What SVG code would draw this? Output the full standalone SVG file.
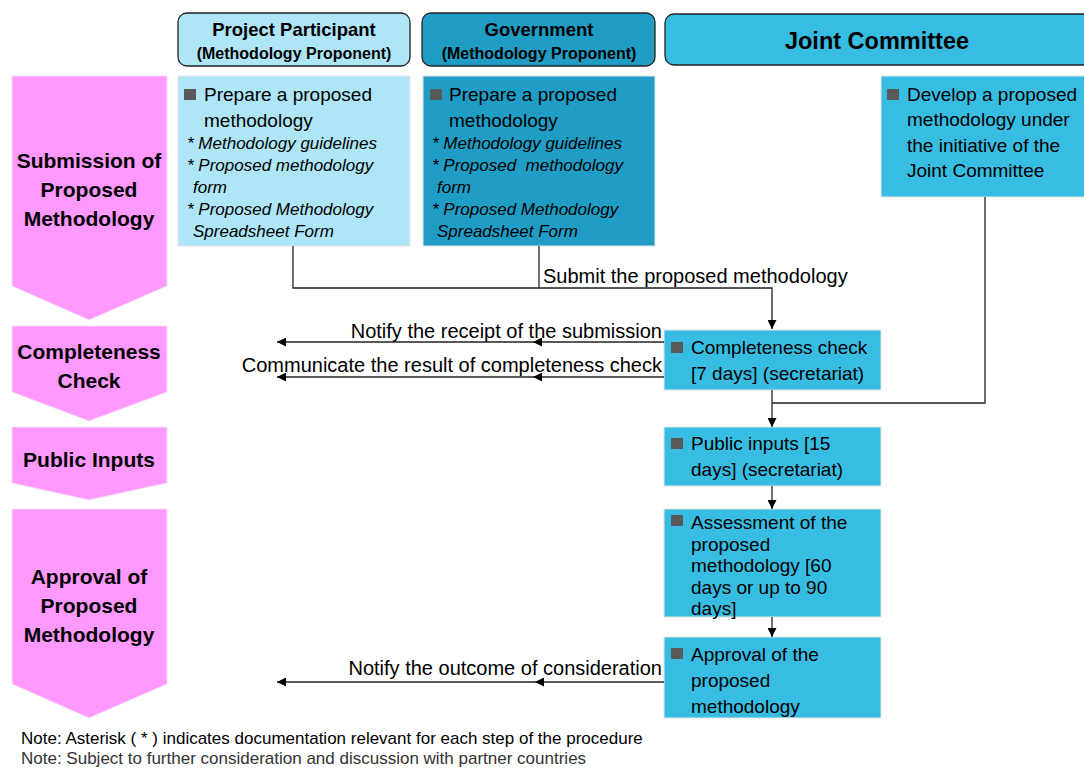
<svg xmlns="http://www.w3.org/2000/svg" width="1084" height="769" viewBox="0 0 1084 769">
<style>
text{font-family:"Liberation Sans",Arial,sans-serif;fill:#000}
.hdr{stroke:#222;stroke-width:1.3}
.pp{fill:#AEE5F7}
.gov{fill:#1F9DC4}
.jc{fill:#38BDE2}
.box{stroke:#E6E6E6;stroke-width:1}
.pink{fill:#FF99FF;stroke:#F6E0F6;stroke-width:1}
.ph{font-weight:bold;font-size:21px;text-anchor:middle}
.h1{font-weight:bold;font-size:18.5px;text-anchor:middle}
.h2{font-weight:bold;font-size:16px;text-anchor:middle}
.b{font-size:19px}
.it{font-size:17px;font-style:italic}
.lbl{font-size:20px}
.note{font-size:17px}
.sq{fill:#595959}
.ln{fill:none;stroke:#222;stroke-width:1.3}
</style>
<defs>
<marker id="ah" viewBox="0 0 10 10" refX="10" refY="5" markerWidth="9" markerHeight="9" markerUnits="userSpaceOnUse" orient="auto">
<path d="M0,0 L10,5 L0,10 z" fill="#000"/>
</marker>
</defs>

<!-- phase chevrons -->
<g id="phase-submission">
<path class="pink" d="M12,76 H167 V286 L89,320 L12,286 Z"/>
<text class="ph" x="89" y="168">Submission of</text>
<text class="ph" x="89" y="197">Proposed</text>
<text class="ph" x="89" y="226">Methodology</text>
</g>
<g id="phase-completeness">
<path class="pink" d="M12,326 H167 V392 L89,421 L12,392 Z"/>
<text class="ph" x="89" y="359">Completeness</text>
<text class="ph" x="89" y="388">Check</text>
</g>
<g id="phase-public">
<path class="pink" d="M12,427 H167 V483 L89,500 L12,483 Z"/>
<text class="ph" x="89" y="467">Public Inputs</text>
</g>
<g id="phase-approval">
<path class="pink" d="M12,509 H167 V684 L89,718 L12,684 Z"/>
<text class="ph" x="89" y="584">Approval of</text>
<text class="ph" x="89" y="613">Proposed</text>
<text class="ph" x="89" y="642">Methodology</text>
</g>

<!-- headers -->
<g id="hdr-pp">
<rect class="hdr pp" x="178" y="13" width="232" height="53" rx="9"/>
<text class="h1" x="294" y="36">Project Participant</text>
<text class="h2" x="294" y="59">(Methodology Proponent)</text>
</g>
<g id="hdr-gov">
<rect class="hdr gov" x="422" y="13" width="233" height="53" rx="9"/>
<text class="h1" x="539" y="36">Government</text>
<text class="h2" x="539" y="59">(Methodology Proponent)</text>
</g>
<g id="hdr-jc">
<rect class="hdr jc" x="665" y="14" width="430" height="51" rx="9"/>
<text x="877" y="49" font-weight="bold" font-size="23.5px" text-anchor="middle">Joint Committee</text>
</g>

<!-- content nodes -->
<g id="pp-prepare">
<rect class="box pp" x="178" y="76" width="232" height="170"/>
<rect class="sq" x="184" y="89" width="12" height="11"/>
<text class="b" x="204" y="101">Prepare a proposed</text>
<text class="b" x="204" y="127">methodology</text>
<text class="it" x="187" y="149">* Methodology guidelines</text>
<text class="it" x="187" y="171">* Proposed methodology</text>
<text class="it" x="193" y="193">form</text>
<text class="it" x="187" y="215">* Proposed Methodology</text>
<text class="it" x="193" y="237">Spreadsheet Form</text>
</g>
<g id="gov-prepare">
<rect class="box gov" x="423" y="76" width="232" height="170"/>
<rect class="sq" x="430" y="89" width="12" height="11"/>
<text class="b" x="449" y="101">Prepare a proposed</text>
<text class="b" x="449" y="127">methodology</text>
<text class="it" x="432" y="149">* Methodology guidelines</text>
<text class="it" x="432" y="171" xml:space="preserve">* Proposed  methodology</text>
<text class="it" x="437" y="193">form</text>
<text class="it" x="432" y="215">* Proposed Methodology</text>
<text class="it" x="437" y="237">Spreadsheet Form</text>
</g>
<g id="jc-develop">
<rect class="box jc" x="881" y="76" width="210" height="121"/>
<rect class="sq" x="887" y="89" width="12" height="11"/>
<text class="b" x="907" y="101">Develop a proposed</text>
<text class="b" x="907" y="126">methodology under</text>
<text class="b" x="907" y="152">the initiative of the</text>
<text class="b" x="907" y="177">Joint Committee</text>
</g>
<g id="completeness">
<rect class="box jc" x="664" y="330" width="217" height="60"/>
<rect class="sq" x="671" y="342" width="12" height="11"/>
<text class="b" x="691" y="354">Completeness check</text>
<text class="b" x="691" y="380">[7 days] (secretariat)</text>
</g>
<g id="public-inputs">
<rect class="box jc" x="664" y="427" width="217" height="59"/>
<rect class="sq" x="671" y="438" width="12" height="11"/>
<text class="b" x="691" y="450">Public inputs [15</text>
<text class="b" x="691" y="476">days] (secretariat)</text>
</g>
<g id="assessment">
<rect class="box jc" x="664" y="509" width="217" height="108"/>
<rect class="sq" x="671" y="515" width="12" height="11"/>
<text class="b" x="691" y="529">Assessment of the</text>
<text class="b" x="691" y="551">proposed</text>
<text class="b" x="691" y="572">methodology [60</text>
<text class="b" x="691" y="594">days or up to 90</text>
<text class="b" x="691" y="615">days]</text>
</g>
<g id="approval">
<rect class="box jc" x="664" y="637" width="217" height="81"/>
<rect class="sq" x="671" y="648" width="12" height="11"/>
<text class="b" x="691" y="661">Approval of the</text>
<text class="b" x="691" y="687">proposed</text>
<text class="b" x="691" y="713">methodology</text>
</g>

<!-- connectors -->
<g id="connectors">
<path class="ln" d="M293,246 V288 H772 V329" marker-end="url(#ah)"/>
<path class="ln" d="M539,246 V288"/>
<path class="ln" d="M985,197 V403 H772"/>
<path class="ln" d="M772,390 V427" marker-end="url(#ah)"/>
<path class="ln" d="M772,486 V509" marker-end="url(#ah)"/>
<path class="ln" d="M772,617 V637" marker-end="url(#ah)"/>
<path class="ln" d="M664,342 H533" marker-end="url(#ah)"/>
<path class="ln" d="M533,342 H277" marker-end="url(#ah)"/>
<path class="ln" d="M664,377 H533" marker-end="url(#ah)"/>
<path class="ln" d="M533,377 H277" marker-end="url(#ah)"/>
<path class="ln" d="M664,682 H535" marker-end="url(#ah)"/>
<path class="ln" d="M535,682 H277" marker-end="url(#ah)"/>
<text class="lbl" x="543" y="283">Submit the proposed methodology</text>
<text class="lbl" x="662" y="338" text-anchor="end">Notify the receipt of the submission</text>
<text class="lbl" x="662" y="372" text-anchor="end">Communicate the result of completeness check</text>
<text class="lbl" x="662" y="675" text-anchor="end">Notify the outcome of consideration</text>
</g>

<!-- notes -->
<text class="note" x="21" y="744">Note: Asterisk ( * ) indicates documentation relevant for each step of the procedure</text>
<text class="note" x="21" y="764" style="fill:#333">Note: Subject to further consideration and discussion with partner countries</text>
</svg>
